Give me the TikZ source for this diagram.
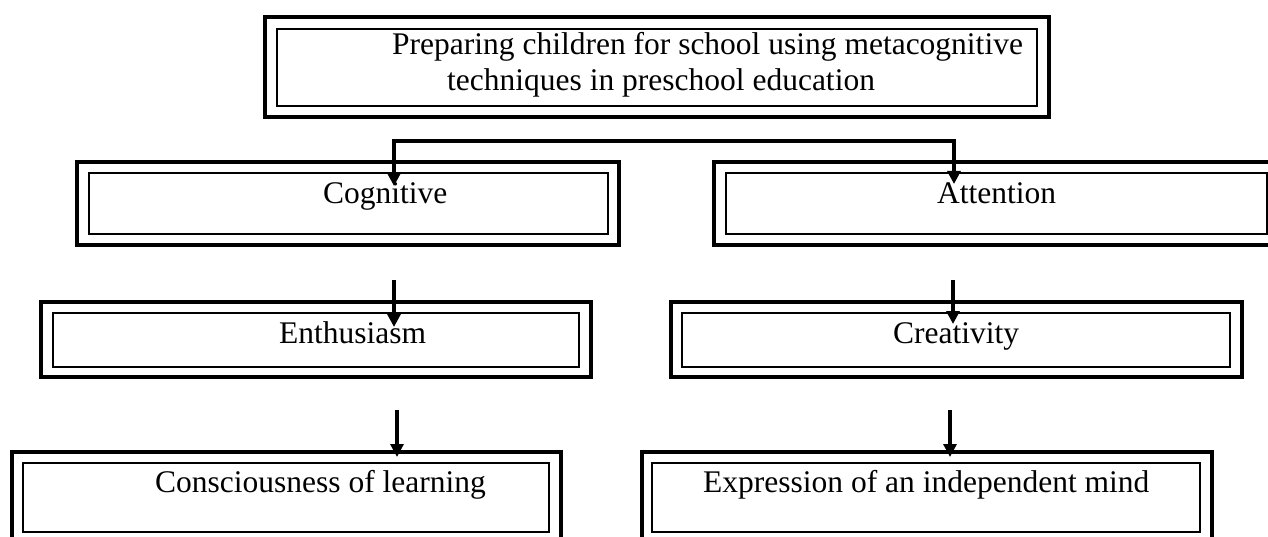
\documentclass[tikz,border=0pt]{standalone}
\usepackage{fontspec}
\setmainfont{Liberation Serif}
\usetikzlibrary{arrows.meta}
\tikzset{
  outerbox/.style={draw, line width=4pt, inner sep=0pt, outer sep=0pt},
  innerbox/.style={draw, line width=2pt, inner sep=0pt, outer sep=0pt},
  lbl/.style={font=\fontsize{31.5}{36}\selectfont, inner sep=0pt, anchor=base west},
  arr/.style={line width=3.2pt, -{Triangle[length=13pt,width=13pt]}},
  link/.style={line width=3.2pt, line cap=rect}
}
\begin{document}
\begin{tikzpicture}[x=1pt,y=-1pt]
\useasboundingbox (0,0) rectangle (1268,537);
\clip (0,0) rectangle (1268,537);
% top box
\node[outerbox, minimum width=784pt, minimum height=100pt] (topO) at (657,67) {};
\node[innerbox, minimum width=760pt, minimum height=77pt] (topI) at (657,67.5) {};
\node[lbl] (t1) at (392,55) {Preparing children for school using metacognitive};
\node[lbl] (t2) at (447,91) {techniques in preschool education};
% row 2
\node[outerbox, minimum width=542pt, minimum height=83pt] (cogO) at (348,203.5) {};
\node[innerbox, minimum width=519pt, minimum height=61pt] (cogI) at (348.5,203.5) {};
\node[lbl] (cogT) at (323,204) {Cognitive};
\node[outerbox, minimum width=566pt, minimum height=83pt] (attO) at (997,203.5) {};
\node[innerbox, minimum width=541pt, minimum height=61pt] (attI) at (996.5,203.5) {};
\node[lbl] (attT) at (937,204) {Attention};
% row 3
\node[outerbox, minimum width=550pt, minimum height=75pt] (entO) at (316,339.5) {};
\node[innerbox, minimum width=526pt, minimum height=54pt] (entI) at (316,340) {};
\node[lbl] (entT) at (279,343) {Enthusiasm};
\node[outerbox, minimum width=571pt, minimum height=75pt] (creO) at (956.5,339.5) {};
\node[innerbox, minimum width=548pt, minimum height=54pt] (creI) at (956,340) {};
\node[lbl] (creT) at (893,343) {Creativity};
% row 4
\node[outerbox, minimum width=549pt, minimum height=108pt] (conO) at (286.5,506) {};
\node[innerbox, minimum width=526pt, minimum height=69pt] (conI) at (286,497.5) {};
\node[lbl] (conT) at (155,492) {Consciousness of learning};
\node[outerbox, minimum width=570pt, minimum height=108pt] (expO) at (927,506) {};
\node[innerbox, minimum width=548pt, minimum height=69pt] (expI) at (926,497.5) {};
\node[lbl] (expT) at (703,492) {Expression of an independent mind};
% connectors
\coordinate (hL) at (394,141);
\coordinate (hR) at (954,141);
\coordinate (cogTip) at (394,186);
\coordinate (attTip) at (954,184);
\draw[link] (hL) -- (hR);
\draw[arr] (hL) -- (cogTip);
\draw[arr] (hR) -- (attTip);
\coordinate (e0) at (394,280);
\coordinate (e1) at (394,327);
\draw[arr] (e0) -- (e1);
\coordinate (c0) at (953,280);
\coordinate (c1) at (953,324);
\draw[arr] (c0) -- (c1);
\coordinate (n0) at (397,410);
\coordinate (n1) at (397,457);
\draw[arr] (n0) -- (n1);
\coordinate (x0) at (950,410);
\coordinate (x1) at (950,457);
\draw[arr] (x0) -- (x1);
\end{tikzpicture}
\end{document}
